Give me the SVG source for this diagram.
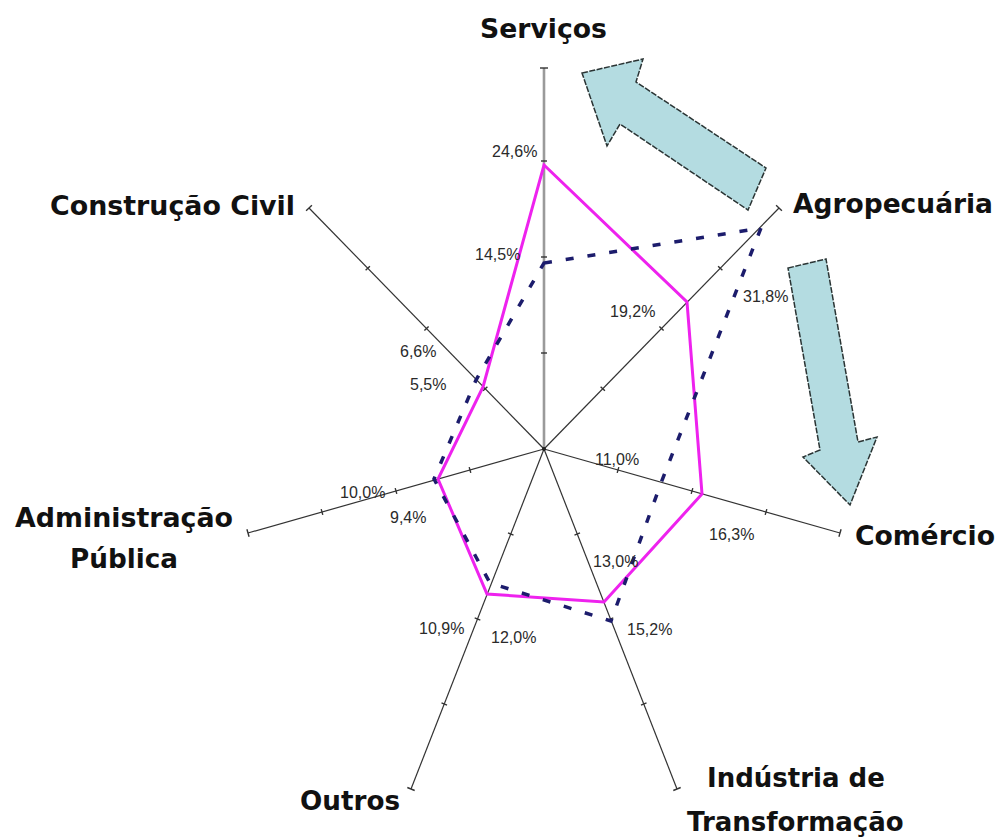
<svg xmlns="http://www.w3.org/2000/svg" width="1000" height="837" viewBox="0 0 1000 837">
<style>
.ax{stroke:#333;stroke-width:1.2;fill:none}
.axs{stroke:#9a9a9a;stroke-width:2.6;fill:none}
.tk{stroke:#333;stroke-width:1.4}
.lbl{font-family:"DejaVu Sans","Liberation Sans",sans-serif;font-weight:bold;font-size:26px;fill:#111}
.pct{font-family:"Liberation Sans",Arial,sans-serif;font-size:16px;fill:#2a2a2a}
.s1{fill:none;stroke:#ee22ee;stroke-width:3;stroke-linejoin:miter}
.s2{fill:none;stroke:#1c1c6c;stroke-width:3.5;stroke-dasharray:8 14}
.arr{fill:#b4dce1;stroke:#2a3434;stroke-width:1.5;stroke-dasharray:6 1.5;stroke-linejoin:miter}
</style>
<rect width="1000" height="837" fill="#ffffff"/>
<g id="connectors">
  <g id="axes">
    <line class="axs" x1="544" y1="449" x2="544" y2="68"/>
    <line class="ax" x1="544" y1="449" x2="779" y2="208"/>
    <line class="ax" x1="544" y1="449" x2="840" y2="533"/>
    <line class="ax" x1="544" y1="449" x2="677" y2="789"/>
    <line class="ax" x1="544" y1="449" x2="411" y2="789"/>
    <line class="ax" x1="544" y1="449" x2="248" y2="533"/>
    <line class="ax" x1="544" y1="449" x2="309" y2="208"/>
  </g>
  <g id="ticks">
    <line class="tk" x1="541" y1="353" x2="547" y2="353"/>
    <line class="tk" x1="541" y1="257" x2="547" y2="257"/>
    <line class="tk" x1="541" y1="161" x2="547" y2="161"/>
    <line class="tk" x1="540" y1="68" x2="548" y2="68"/>
    <line class="tk" x1="600.6" y1="386.7" x2="604.9" y2="390.8"/>
    <line class="tk" x1="659.4" y1="326.4" x2="663.6" y2="330.6"/>
    <line class="tk" x1="718.1" y1="266.2" x2="722.4" y2="270.3"/>
    <line class="tk" x1="776.1" y1="205.2" x2="781.9" y2="210.8"/>
    <line class="tk" x1="618.8" y1="467.1" x2="617.2" y2="472.9"/>
    <line class="tk" x1="692.8" y1="488.1" x2="691.2" y2="493.9"/>
    <line class="tk" x1="766.8" y1="509.1" x2="765.2" y2="514.9"/>
    <line class="tk" x1="841.1" y1="529.2" x2="838.9" y2="536.8"/>
    <line class="tk" x1="580" y1="532.9" x2="574.5" y2="535.1"/>
    <line class="tk" x1="613.3" y1="617.9" x2="607.7" y2="620.1"/>
    <line class="tk" x1="646.5" y1="702.9" x2="641" y2="705.1"/>
    <line class="tk" x1="680.7" y1="787.5" x2="673.3" y2="790.5"/>
    <line class="tk" x1="508" y1="532.9" x2="513.5" y2="535.1"/>
    <line class="tk" x1="474.7" y1="617.9" x2="480.3" y2="620.1"/>
    <line class="tk" x1="441.5" y1="702.9" x2="447" y2="705.1"/>
    <line class="tk" x1="407.3" y1="787.5" x2="414.7" y2="790.5"/>
    <line class="tk" x1="469.2" y1="467.1" x2="470.8" y2="472.9"/>
    <line class="tk" x1="395.2" y1="488.1" x2="396.8" y2="493.9"/>
    <line class="tk" x1="321.2" y1="509.1" x2="322.8" y2="514.9"/>
    <line class="tk" x1="246.9" y1="529.2" x2="249.1" y2="536.8"/>
    <line class="tk" x1="487.4" y1="386.7" x2="483.1" y2="390.8"/>
    <line class="tk" x1="428.6" y1="326.4" x2="424.4" y2="330.6"/>
    <line class="tk" x1="369.9" y1="266.2" x2="365.6" y2="270.3"/>
    <line class="tk" x1="311.9" y1="205.2" x2="306.1" y2="210.8"/>
    <circle cx="544" cy="449" r="2" fill="#222"/>
  </g>
</g>
<g id="series-magenta">
  <polygon class="s1" points="544,165 687,302 702,494 604,602 487,594 438,479 483,387"/>
</g>
<g id="series-dashed">
  <polygon class="s2" points="544,263 761,228 661,483 611,621 490,583 434,479 476,380"/>
</g>
<g id="values">
  <text class="pct" x="492" y="157">24,6%</text>
  <text class="pct" x="475" y="260">14,5%</text>
  <text class="pct" x="610" y="317">19,2%</text>
  <text class="pct" x="743" y="302">31,8%</text>
  <text class="pct" x="400" y="357">6,6%</text>
  <text class="pct" x="410" y="390">5,5%</text>
  <text class="pct" x="595" y="465">11,0%</text>
  <text class="pct" x="340" y="498">10,0%</text>
  <text class="pct" x="390" y="523">9,4%</text>
  <text class="pct" x="709" y="540">16,3%</text>
  <text class="pct" x="593" y="567">13,0%</text>
  <text class="pct" x="419" y="634">10,9%</text>
  <text class="pct" x="491" y="643">12,0%</text>
  <text class="pct" x="627" y="635">15,2%</text>
</g>
<g id="node-servicos"><text class="lbl" x="480" y="38" textLength="127" lengthAdjust="spacingAndGlyphs">Serviços</text></g>
<g id="node-agropecuaria"><text class="lbl" x="793" y="213" textLength="200" lengthAdjust="spacingAndGlyphs">Agropecuária</text></g>
<g id="node-comercio"><text class="lbl" x="855" y="545" textLength="140" lengthAdjust="spacingAndGlyphs">Comércio</text></g>
<g id="node-industria">
  <text class="lbl" x="707" y="787">Indústria de</text>
  <text class="lbl" x="687" y="831">Transformação</text>
</g>
<g id="node-outros"><text class="lbl" x="300" y="810" textLength="100" lengthAdjust="spacingAndGlyphs">Outros</text></g>
<g id="node-administracao">
  <text class="lbl" x="15" y="527" textLength="218" lengthAdjust="spacingAndGlyphs">Administração</text>
  <text class="lbl" x="70" y="568" textLength="108" lengthAdjust="spacingAndGlyphs">Pública</text>
</g>
<g id="node-construcao"><text class="lbl" x="50" y="215" textLength="245" lengthAdjust="spacingAndGlyphs">Construção Civil</text></g>
<g id="arrow-up">
  <polygon class="arr" points="582,73 643,59 636,82 766,168 748,210 620,124 607,146"/>
</g>
<g id="arrow-down">
  <polygon class="arr" points="788,268 826,259 858,442 877,437 850,505 803,457 820,450"/>
</g>
</svg>
